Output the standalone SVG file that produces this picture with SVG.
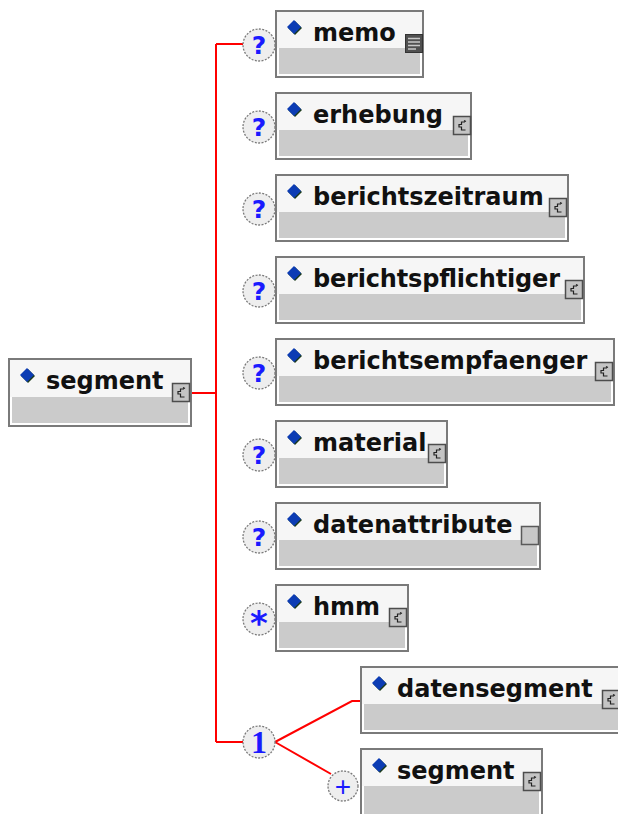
<svg xmlns="http://www.w3.org/2000/svg" width="618" height="814" viewBox="0 0 618 814">
<style>
.box{fill:#ffffff;stroke:#7a7a7a;stroke-width:2}
.hd{fill:#f6f6f6}
.lo{fill:#cbcbcb}
.lbl{font-family:"DejaVu Sans","Liberation Sans",sans-serif;font-weight:bold;font-size:24px;fill:#111}
.circ{fill:#eeeeee;stroke:#7a7a7a;stroke-width:1.3;stroke-dasharray:2 1.4}
.q{font-family:"DejaVu Sans",sans-serif;font-weight:bold;font-size:25px;fill:#1a1aff;text-anchor:middle}
.one{font-family:"Liberation Serif",serif;font-weight:bold;font-size:32px;fill:#1a1aff;text-anchor:middle}
.plus{font-family:"Liberation Sans",sans-serif;font-size:28px;fill:#1a1aff;text-anchor:middle}
.star{font-family:"DejaVu Sans",sans-serif;font-weight:bold;font-size:34px;fill:#1a1aff;text-anchor:middle}
.wire{fill:none;stroke:#ff0000;stroke-width:2}
</style>
<defs>
<g id="dia">
<polygon points="1,-6 8,1 1,8 -6,1" fill="#1a3a1a"/>
<polygon points="0,-7 7,0 0,7 -7,0" fill="#0c3cb4"/>
</g>
<g id="ct">
<rect x="0.5" y="0.5" width="17" height="18" fill="#c4c4c4" stroke="#4d4d4d" stroke-width="1.5"/>
<path d="M12 6 H8.5 V8.5 H6 V11 H8.5 V14 H12.5 M11 4.5 L13 5.5" fill="none" stroke="#222" stroke-width="1.2"/>
</g>
<g id="st">
<rect x="0.5" y="0.5" width="17" height="18" fill="#505050" stroke="#333" stroke-width="1"/>
<path d="M3 4.5 H15 M3 8 H15 M3 11.5 H15 M3 15 H11" stroke="#c8c8c8" stroke-width="1.5"/>
</g>
<g id="sq">
<rect x="0.5" y="0.5" width="17" height="18" fill="#c8c8c8" stroke="#5a5a5a" stroke-width="1.5"/>
</g>
</defs>

<g id="connectors">
<path class="wire" d="M191 393 H216 M216 44 V742 M216 44 H243 M216 742 H243"/>
<path class="wire" d="M275 742 L352 701 H361 M275 742 L331 774" stroke-width="1.6"/>
</g>

<g id="node-root">
<rect class="box" x="9" y="359" width="182" height="67"/>
<rect class="hd" x="10" y="360" width="180" height="37"/>
<rect class="lo" x="12" y="397" width="176" height="26"/>
<use href="#dia" x="27" y="375"/>
<text class="lbl" x="46" y="389">segment</text>
<use href="#ct" x="172" y="383"/>
</g>

<g id="node-memo">
<circle class="circ" cx="259" cy="45" r="16"/>
<text class="q" x="259" y="54">?</text>
<rect class="box" x="276" y="11" width="147" height="66"/>
<rect class="hd" x="277" y="12" width="145" height="36"/>
<rect class="lo" x="279" y="48" width="141" height="26"/>
<use href="#dia" x="294" y="27"/>
<text class="lbl" x="313" y="41">memo</text>
<use href="#st" x="405" y="34"/>
</g>

<g id="node-erhebung">
<circle class="circ" cx="259" cy="127" r="16"/>
<text class="q" x="259" y="136">?</text>
<rect class="box" x="276" y="93" width="195" height="66"/>
<rect class="hd" x="277" y="94" width="193" height="36"/>
<rect class="lo" x="279" y="130" width="189" height="26"/>
<use href="#dia" x="294" y="109"/>
<text class="lbl" x="313" y="123">erhebung</text>
<use href="#ct" x="453" y="116"/>
</g>

<g id="node-berichtszeitraum">
<circle class="circ" cx="259" cy="209" r="16"/>
<text class="q" x="259" y="218">?</text>
<rect class="box" x="276" y="175" width="292" height="66"/>
<rect class="hd" x="277" y="176" width="290" height="36"/>
<rect class="lo" x="279" y="212" width="286" height="26"/>
<use href="#dia" x="294" y="191"/>
<text class="lbl" x="313" y="205">berichtszeitraum</text>
<use href="#ct" x="549" y="198"/>
</g>

<g id="node-berichtspflichtiger">
<circle class="circ" cx="259" cy="291" r="16"/>
<text class="q" x="259" y="300">?</text>
<rect class="box" x="276" y="257" width="308" height="66"/>
<rect class="hd" x="277" y="258" width="306" height="36"/>
<rect class="lo" x="279" y="294" width="302" height="26"/>
<use href="#dia" x="294" y="273"/>
<text class="lbl" x="313" y="287" textLength="247">berichtspflichtiger</text>
<use href="#ct" x="565" y="280"/>
</g>

<g id="node-berichtsempfaenger">
<circle class="circ" cx="259" cy="373" r="16"/>
<text class="q" x="259" y="382">?</text>
<rect class="box" x="276" y="339" width="338" height="66"/>
<rect class="hd" x="277" y="340" width="336" height="36"/>
<rect class="lo" x="279" y="376" width="332" height="26"/>
<use href="#dia" x="294" y="355"/>
<text class="lbl" x="313" y="369">berichtsempfaenger</text>
<use href="#ct" x="595" y="362"/>
</g>

<g id="node-material">
<circle class="circ" cx="259" cy="455" r="16"/>
<text class="q" x="259" y="464">?</text>
<rect class="box" x="276" y="421" width="171" height="66"/>
<rect class="hd" x="277" y="422" width="169" height="36"/>
<rect class="lo" x="279" y="458" width="165" height="26"/>
<use href="#dia" x="294" y="437"/>
<text class="lbl" x="313" y="451">material</text>
<use href="#ct" x="428" y="444"/>
</g>

<g id="node-datenattribute">
<circle class="circ" cx="259" cy="537" r="16"/>
<text class="q" x="259" y="546">?</text>
<rect class="box" x="276" y="503" width="264" height="66"/>
<rect class="hd" x="277" y="504" width="262" height="36"/>
<rect class="lo" x="279" y="540" width="258" height="26"/>
<use href="#dia" x="294" y="519"/>
<text class="lbl" x="313" y="533">datenattribute</text>
<use href="#sq" x="521" y="526"/>
</g>

<g id="node-hmm">
<circle class="circ" cx="259" cy="619" r="16"/>
<text class="star" x="259" y="635">*</text>
<rect class="box" x="276" y="585" width="132" height="66"/>
<rect class="hd" x="277" y="586" width="130" height="36"/>
<rect class="lo" x="279" y="622" width="126" height="26"/>
<use href="#dia" x="294" y="601"/>
<text class="lbl" x="313" y="615">hmm</text>
<use href="#ct" x="389" y="608"/>
</g>

<g id="node-choice">
<circle class="circ" cx="259" cy="742" r="16"/>
<text class="one" x="259" y="753">1</text>
</g>

<g id="node-datensegment">
<rect class="box" x="361" y="667" width="260" height="66"/>
<rect class="hd" x="362" y="668" width="258" height="36"/>
<rect class="lo" x="364" y="704" width="254" height="26"/>
<use href="#dia" x="379" y="683"/>
<text class="lbl" x="397" y="697">datensegment</text>
<use href="#ct" x="602" y="690"/>
</g>

<g id="node-segment-child">
<circle class="circ" cx="343" cy="786" r="15"/>
<text class="plus" x="343" y="796">+</text>
<rect class="box" x="361" y="749" width="181" height="70"/>
<rect class="hd" x="362" y="750" width="179" height="36"/>
<rect class="lo" x="364" y="786" width="175" height="30"/>
<use href="#dia" x="379" y="765"/>
<text class="lbl" x="397" y="779">segment</text>
<use href="#ct" x="523" y="772"/>
</g>
</svg>
